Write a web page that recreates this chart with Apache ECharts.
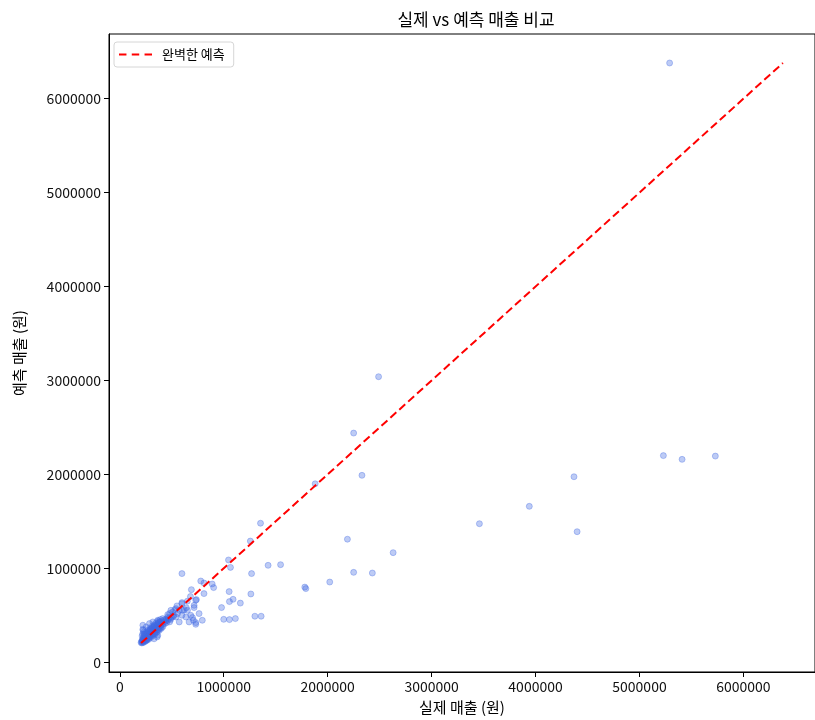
<!DOCTYPE html>
<html>
<head>
<meta charset="utf-8">
<script src="https://cdn.jsdelivr.net/npm/echarts@6/dist/echarts.min.js"></script>
<style>
html,body{margin:0;padding:0;background:#fff;}
#chart{width:815px;height:720px;}
</style>
</head>
<body>
<div id="chart"></div>
<script>
// Actual sales (x) and predicted sales (y), in won
const actualSales = [
  5290000, 2490000, 2250000, 2330000, 1880000, 2190000, 4370000, 5230000, 5410000, 5730000,
  3940000, 3460000, 4400000, 2630000, 2250000, 2430000, 2020000, 1780000, 1790000, 1354000,
  1256000, 1268000, 1427000, 1547000, 1261000, 1300000, 1360000, 1046000, 1065000, 779000,
  810000, 889000, 903000, 810000, 1052000, 1090000, 1055000, 1160000, 979000, 1000000,
  1055000, 1112000, 598000,
  689000, 737000, 715000, 651000, 572000, 598000, 708000, 794000, 636000, 508000,
  461000, 683000, 731000, 572000, 598000, 699000, 731000, 763000, 715000, 731000,
  598000, 667000, 492000, 540000, 461000, 413000, 365000, 318000, 286000, 254000,
  350000, 381000, 445000, 483000, 515000, 540000, 556000, 604000, 318000, 365000,
  222000, 222000, 360000, 330000, 550000, 650000, 680000, 620000, 520000, 480000,
  530000, 640000,
  205000, 210000, 212000, 215000, 218000, 220000, 222000, 225000, 225000, 228000,
  230000, 232000, 235000, 236000, 238000, 240000, 242000, 245000, 247000, 250000,
  252000, 255000, 258000, 260000, 262000, 265000, 268000, 270000, 272000, 275000,
  278000, 280000, 282000, 285000, 288000, 290000, 292000, 295000, 298000, 300000,
  302000, 305000, 308000, 310000, 312000, 315000, 318000, 320000, 323000, 325000,
  328000, 330000, 333000, 335000, 338000, 340000, 343000, 345000, 348000, 350000,
  355000, 358000, 360000, 363000, 365000, 368000, 370000, 373000, 376000, 380000,
  383000, 386000, 390000, 393000, 396000, 400000, 405000, 410000, 415000, 420000,
  425000, 430000, 440000, 445000, 450000, 460000, 470000, 480000, 490000, 500000,
  220000, 230000, 225000, 235000, 245000, 215000, 250000, 262000, 280000, 300000,
  320000, 340000, 360000, 380000, 400000, 270000, 290000, 310000, 330000, 350000,
  370000, 390000
];
const predictedSales = [
  6380000, 3040000, 2440000, 1990000, 1900000, 1310000, 1975000, 2200000, 2160000, 2195000,
  1660000, 1475000, 1390000, 1167000, 957000, 950000, 854000, 800000, 784000, 1480000,
  1290000, 944000, 1032000, 1039000, 727000, 490000, 490000, 1089000, 1010000, 865000,
  844000, 833000, 795000, 731000, 752000, 670000, 646000, 630000, 582000, 457000,
  454000, 465000, 944000,
  773000, 667000, 582000, 553000, 553000, 635000, 447000, 447000, 482000, 535000,
  507000, 500000, 404000, 429000, 500000, 476000, 422000, 518000, 606000, 660000,
  624000, 429000, 553000, 571000, 482000, 465000, 447000, 429000, 412000, 376000,
  376000, 429000, 447000, 465000, 489000, 482000, 518000, 553000, 358000, 287000,
  394000, 351000, 270000, 250000, 600000, 650000, 700000, 560000, 500000, 520000,
  560000, 580000,
  210000, 220000, 205000, 235000, 215000, 240000, 225000, 210000, 260000, 245000,
  230000, 270000, 215000, 255000, 240000, 285000, 260000, 230000, 275000, 250000,
  300000, 265000, 240000, 285000, 310000, 270000, 250000, 295000, 320000, 280000,
  260000, 305000, 335000, 290000, 270000, 315000, 345000, 300000, 280000, 325000,
  355000, 310000, 290000, 335000, 365000, 320000, 300000, 345000, 375000, 330000,
  305000, 355000, 385000, 340000, 315000, 365000, 395000, 350000, 325000, 375000,
  360000, 400000, 340000, 385000, 410000, 370000, 350000, 395000, 420000, 380000,
  360000, 405000, 430000, 390000, 370000, 415000, 440000, 400000, 380000, 425000,
  450000, 410000, 435000, 460000, 420000, 445000, 470000, 430000, 455000, 480000,
  300000, 320000, 340000, 300000, 310000, 280000, 225000, 235000, 245000, 265000,
  285000, 300000, 320000, 340000, 360000, 340000, 360000, 380000, 400000, 420000,
  440000, 455000
];
const tickValues = [0, 1000000, 2000000, 3000000, 4000000, 5000000, 6000000];
const titleText = '실제 vs 예측 매출 비교';
const xName = '실제 매출 (원)';
const yName = '예측 매출 (원)';
const lineName = '완벽한 예측';

const allVals = actualSales.concat(predictedSales);
const lo = Math.min(...allVals);
const hi = Math.max(...allVals);
const pad = 0.05 * (hi - lo);
const axMin = lo - pad, axMax = hi + pad;

const points = actualSales.map((v, i) => [v, predictedSales[i]]);
const FONT = '"Noto Sans CJK KR", "Noto Sans", sans-serif';

const chart = echarts.init(document.getElementById('chart'), null, {renderer: 'canvas'});
const axisCommon = {
  type: 'value',
  min: axMin,
  max: axMax,
  splitLine: {show: false},
  axisLine: {show: true, onZero: false, lineStyle: {color: '#000', width: 1}},
  axisTick: {show: true, length: 5, customValues: tickValues, lineStyle: {color: '#000', width: 1}},
  axisLabel: {customValues: tickValues, color: '#111', fontSize: 14, fontFamily: FONT, margin: 8,
              formatter: v => String(Math.round(v))},
  nameLocation: 'middle',
  nameTextStyle: {color: '#000', fontSize: 15, fontFamily: FONT}
};
chart.setOption({
  animation: false,
  backgroundColor: '#fff',
  title: {
    text: titleText, left: 471, top: 6, textAlign: 'center',
    textStyle: {fontSize: 17, fontWeight: 'normal', color: '#000', fontFamily: FONT}
  },
  grid: {left: 109, top: 34, right: -6, bottom: 48, show: true, borderColor: '#000', borderWidth: 1, containLabel: false},
  legend: {
    data: [{name: lineName, icon: 'path://M0,0H7V2H0Z M12,0H19V2H12Z M24,0H31V2H24Z'}],
    left: 114, top: 42, orient: 'vertical',
    padding: [6, 9, 6, 5], itemWidth: 33, itemHeight: 14, itemGap: 6,
    itemStyle: {color: '#ff0000', borderWidth: 0},
    backgroundColor: 'rgba(255,255,255,0.8)', borderColor: '#d6d6d6', borderWidth: 1, borderRadius: 3,
    textStyle: {fontSize: 13, color: '#000', fontFamily: FONT, padding: [0, 0, 0, 5]}
  },
  xAxis: Object.assign({}, axisCommon, {name: xName, nameGap: 28}),
  yAxis: Object.assign({}, axisCommon, {name: yName, nameGap: 82}),
  series: [
    {
      type: 'scatter', name: 'data', data: points, symbolSize: 6,
      itemStyle: {color: 'rgb(65,105,225)', opacity: 0.35, borderColor: 'rgb(65,105,225)', borderWidth: 1},
      z: 2
    },
    {
      type: 'line', name: lineName, data: [[lo, lo], [hi, hi]], symbol: 'none',
      itemStyle: {color: '#ff0000'},
      lineStyle: {color: '#ff0000', width: 2, type: [8, 4]}, z: 3
    }
  ]
});
</script>
</body>
</html>
